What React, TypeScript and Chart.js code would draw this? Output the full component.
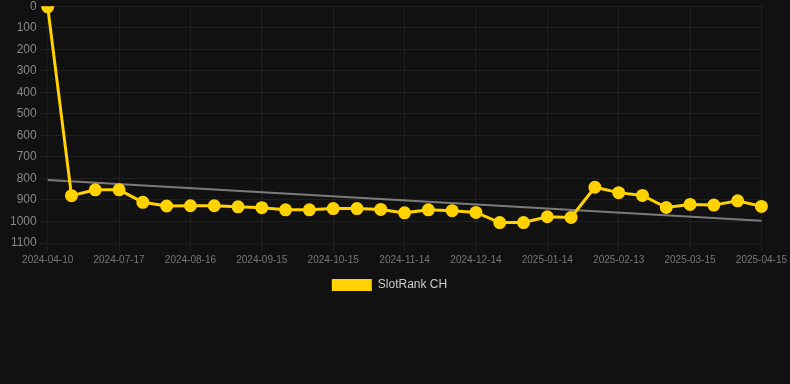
import React, { useEffect, useRef } from "react";
import { Chart, registerables } from "chart.js";

Chart.register(...registerables);

const labels = [
  "2024-04-10", "2024-06-27", "2024-07-07", "2024-07-17", "2024-07-27", "2024-08-06",
  "2024-08-16", "2024-08-26", "2024-09-05", "2024-09-15", "2024-09-25", "2024-10-05",
  "2024-10-15", "2024-10-25", "2024-11-04", "2024-11-14", "2024-11-24", "2024-12-04",
  "2024-12-14", "2024-12-24", "2025-01-04", "2025-01-14", "2025-01-24", "2025-02-03",
  "2025-02-13", "2025-02-23", "2025-03-05", "2025-03-15", "2025-03-25", "2025-04-05",
  "2025-04-15",
];

const rankValues = [
  3, 880, 853, 853, 911, 928, 927, 927, 932, 936, 946, 946, 940, 940, 944, 960,
  946, 950, 958, 1005, 1005, 978, 981, 841, 866, 879, 935, 921, 924, 904, 930,
];

const trendValues: (number | null)[] = labels.map(() => null);
trendValues[0] = 807;
trendValues[labels.length - 1] = 997;

const yTicksMax = 1100;

export default function App() {
  const ref = useRef<HTMLCanvasElement | null>(null);

  useEffect(() => {
    document.body.style.margin = "0";
    document.body.style.background = "#111111";
    if (!ref.current) return;
    Chart.defaults.font.family = "Arial, 'Liberation Sans', Helvetica, sans-serif";
    const chart = new Chart(ref.current, {
      type: "line",
      data: {
        labels,
        datasets: [
          {
            label: "SlotRank CH",
            data: rankValues,
            borderColor: "#FFD200",
            backgroundColor: "#FFD200",
            pointBackgroundColor: "#FFD200",
            pointBorderColor: "#FFD200",
            borderWidth: 3,
            pointRadius: 5,
            tension: 0,
            order: 0,
          },
          {
            label: "trend",
            data: trendValues,
            borderColor: "rgba(150,150,150,0.8)",
            backgroundColor: "rgba(150,150,150,0.8)",
            borderWidth: 2,
            pointRadius: 0,
            spanGaps: true,
            order: 1,
          },
        ],
      },
      options: {
        animation: false,
        responsive: true,
        maintainAspectRatio: false,
        layout: { padding: { left: 7, right: 18 } },
        plugins: {
          legend: {
            position: "bottom",
            labels: {
              color: "#cccccc",
              font: { size: 12 },
              boxWidth: 40,
              boxHeight: 12,
              generateLabels: (chart) =>
                Chart.defaults.plugins.legend.labels
                  .generateLabels(chart)
                  .filter((item) => item.text === "SlotRank CH")
                  .map((item) => ({ ...item, lineWidth: 0 })),
            },
          },
          tooltip: { enabled: false },
        },
        scales: {
          x: {
            grid: { color: "rgba(255,255,255,0.06)" },
            ticks: { color: "#777777", font: { size: 10 }, maxRotation: 0, autoSkip: true },
          },
          y: {
            reverse: true,
            min: 0,
            max: yTicksMax,
            grid: { color: "rgba(255,255,255,0.06)" },
            ticks: {
              color: "#888888",
              font: { size: 12 },
              stepSize: 100,
              callback: (v) => String(v),
            },
          },
        },
      },
    });
    return () => chart.destroy();
  }, []);

  return (
    <div style={{ width: 790, height: 384, overflow: "hidden", background: "#111111" }}>
      <div style={{ width: 790, height: 305, marginTop: -4 }}>
        <canvas ref={ref} />
      </div>
    </div>
  );
}
